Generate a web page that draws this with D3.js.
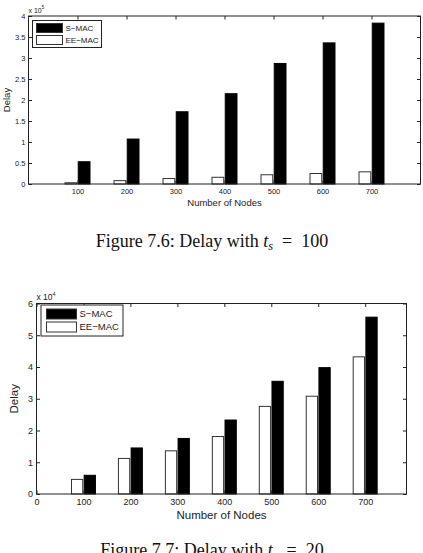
<!DOCTYPE html>
<html>
<head>
<meta charset="utf-8">
<script src="https://cdn.jsdelivr.net/npm/d3@7"></script>
<style>
  body { margin: 0; background: #fff; }
  svg { display: block; }
  .axis text { font-family: "Liberation Sans", Arial, sans-serif; fill: #222; }
</style>
</head>
<body>
<svg id="page" width="423" height="553"></svg>
<script>
// Number of nodes on the x axis
const nodes = [100, 200, 300, 400, 500, 600, 700];

// Figure 7.6 (values in units of 10^5)
const smacTs100 = [0.53, 1.07, 1.72, 2.15, 2.87, 3.36, 3.83];
const eemacTs100 = [0.03, 0.08, 0.13, 0.16, 0.22, 0.25, 0.29];
const yTicksTs100 = [0, 0.5, 1, 1.5, 2, 2.5, 3, 3.5, 4];
const xTicksTs100 = [100, 200, 300, 400, 500, 600, 700];

// Figure 7.7 (values in units of 10^4)
const smacTs20 = [0.59, 1.45, 1.75, 2.33, 3.55, 3.98, 5.57];
const eemacTs20 = [0.46, 1.12, 1.36, 1.81, 2.76, 3.08, 4.32];
const yTicksTs20 = [0, 1, 2, 3, 4, 5, 6];
const xTicksTs20 = [0, 100, 200, 300, 400, 500, 600, 700];

const seriesNames = ['S\u2212MAC', 'EE\u2212MAC'];

const svg = d3.select('#page');

function drawChart(opt) {
  const g = svg.append('g');
  const x = d3.scaleLinear().domain(opt.xDomain).range([opt.left, opt.right]);
  const y = d3.scaleLinear().domain(opt.yDomain).range([opt.bottom, opt.top]);
  const axisColor = '#222';

  // bars: EE-MAC (white) left of the tick, S-MAC (black) right of it
  const half = 1.5, bw = 24;
  g.selectAll('rect.ee').data(nodes).enter().append('rect')
    .attr('class', 'ee')
    .attr('x', (d) => x(d - half - bw))
    .attr('width', (d) => x(d - half) - x(d - half - bw))
    .attr('y', (d, i) => y(opt.ee[i]))
    .attr('height', (d, i) => y(0) - y(opt.ee[i]))
    .attr('fill', '#fff').attr('stroke', '#333').attr('stroke-width', 1);

  g.selectAll('rect.s').data(nodes).enter().append('rect')
    .attr('class', 's')
    .attr('x', (d) => x(d + half))
    .attr('width', (d) => x(d + half + bw) - x(d + half))
    .attr('y', (d, i) => y(opt.s[i]))
    .attr('height', (d, i) => y(0) - y(opt.s[i]))
    .attr('fill', '#000').attr('stroke', '#000').attr('stroke-width', 1);

  // axes, ticks point inward on all four sides
  const tk = 3.5;
  const bottomAxis = g.append('g').attr('class', 'axis')
    .attr('transform', `translate(0,${opt.bottom})`)
    .call(d3.axisBottom(x).tickValues(opt.xTicks).tickSize(-tk).tickPadding(opt.xPad).tickFormat(d3.format('d')));
  const topAxis = g.append('g').attr('class', 'axis')
    .attr('transform', `translate(0,${opt.top})`)
    .call(d3.axisTop(x).tickValues(opt.xTicks).tickSize(-tk).tickFormat(''));
  const leftAxis = g.append('g').attr('class', 'axis')
    .attr('transform', `translate(${opt.left},0)`)
    .call(d3.axisLeft(y).tickValues(opt.yTicks).tickSize(-tk).tickPadding(opt.yPad).tickFormat(d3.format('~g')));
  const rightAxis = g.append('g').attr('class', 'axis')
    .attr('transform', `translate(${opt.right},0)`)
    .call(d3.axisRight(y).tickValues(opt.yTicks).tickSize(-tk).tickFormat(''));

  [bottomAxis, topAxis, leftAxis, rightAxis].forEach((a) => {
    a.select('.domain').remove();
    a.selectAll('line').attr('stroke', axisColor);
    a.selectAll('text').style('font-size', opt.tickFont + 'px');
  });

  // box
  g.append('rect')
    .attr('x', opt.left).attr('y', opt.top)
    .attr('width', opt.right - opt.left).attr('height', opt.bottom - opt.top)
    .attr('fill', 'none').attr('stroke', axisColor).attr('stroke-width', 1);

  // exponent label
  const ex = g.append('text')
    .attr('x', opt.left).attr('y', opt.top - 3.5)
    .attr('font-family', 'Liberation Sans, Arial, sans-serif')
    .attr('font-size', opt.tickFont - 0.5).attr('fill', '#222');
  ex.append('tspan').text('x 10');
  ex.append('tspan').attr('dy', -opt.tickFont * 0.45).attr('font-size', opt.tickFont * 0.6).text(opt.exponent);

  // axis titles
  g.append('text')
    .attr('x', (opt.left + opt.right) / 2).attr('y', opt.xLabelY)
    .attr('text-anchor', 'middle')
    .attr('font-family', 'Liberation Sans, Arial, sans-serif')
    .attr('font-size', opt.labelFont).attr('fill', '#222')
    .text('Number of Nodes');
  g.append('text')
    .attr('transform', `translate(${opt.yLabelX},${(opt.top + opt.bottom) / 2}) rotate(-90)`)
    .attr('text-anchor', 'middle')
    .attr('font-family', 'Liberation Sans, Arial, sans-serif')
    .attr('font-size', opt.labelFont).attr('fill', '#222')
    .text('Delay');

  // legend
  const L = opt.legend;
  g.append('rect')
    .attr('x', L.x).attr('y', L.y).attr('width', L.w).attr('height', L.h)
    .attr('fill', '#fff').attr('stroke', '#222').attr('stroke-width', 1);
  const fills = ['#000', '#fff'];
  seriesNames.forEach((name, i) => {
    const sy = L.y + L.pad + i * L.step;
    g.append('rect')
      .attr('x', L.x + L.sx).attr('y', sy)
      .attr('width', L.sw).attr('height', L.sh)
      .attr('fill', fills[i]).attr('stroke', '#333').attr('stroke-width', 1);
    g.append('text')
      .attr('x', L.x + L.sx + L.sw + 3).attr('y', sy + L.sh / 2)
      .attr('dy', '0.35em')
      .attr('font-family', 'Liberation Sans, Arial, sans-serif')
      .attr('font-size', L.font).attr('fill', '#222')
      .text(name);
  });

  // caption (LaTeX-style, t_s in math italic)
  const cap = svg.append('text')
    .attr('x', 212).attr('y', opt.captionY)
    .attr('text-anchor', 'middle')
    .attr('font-family', 'Liberation Serif, Times New Roman, serif')
    .attr('font-size', 18).attr('fill', '#111');
  cap.append('tspan').text(opt.caption + ' ');
  cap.append('tspan').attr('font-style', 'italic').text('t');
  cap.append('tspan').attr('font-style', 'italic').attr('font-size', 12.5).attr('dy', 3).text('s');
  cap.append('tspan').attr('dy', -3).text('\u2002=\u2002' + opt.ts);
}

drawChart({
  left: 28.5, right: 420.5, top: 16, bottom: 184,
  xDomain: [0, 800], yDomain: [0, 4],
  xTicks: xTicksTs100, yTicks: yTicksTs100,
  s: smacTs100, ee: eemacTs100,
  exponent: '5', tickFont: 7.5, labelFont: 9.5, xPad: 5, yPad: 3,
  xLabelY: 206, yLabelX: 10,
  legend: { x: 32.5, y: 20.5, w: 69, h: 27, pad: 3, step: 12, sx: 4, sw: 26, sh: 9, font: 8 },
  caption: 'Figure 7.6: Delay with', ts: '100', captionY: 246.5
});

drawChart({
  left: 36.5, right: 406.5, top: 303.5, bottom: 494,
  xDomain: [0, 788], yDomain: [0, 6],
  xTicks: xTicksTs20, yTicks: yTicksTs20,
  s: smacTs20, ee: eemacTs20,
  exponent: '4', tickFont: 9, labelFont: 11.5, xPad: 5, yPad: 3.5,
  xLabelY: 519, yLabelX: 18,
  legend: { x: 41, y: 305, w: 82, h: 31, pad: 4, step: 13, sx: 5.5, sw: 30, sh: 10, font: 9.5 },
  caption: 'Figure 7.7: Delay with', ts: '20', captionY: 555.5
});
</script>
</body>
</html>
